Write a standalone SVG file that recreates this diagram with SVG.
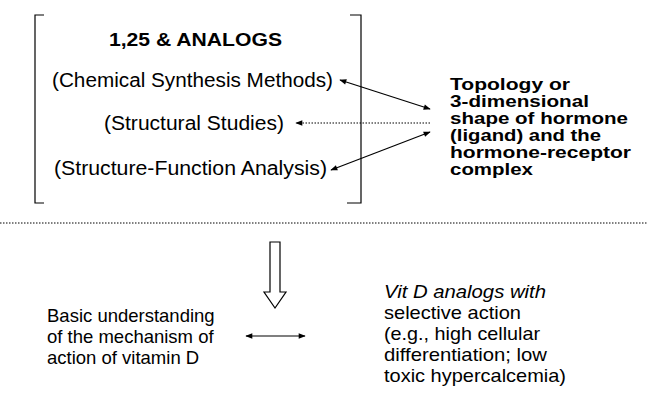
<svg xmlns="http://www.w3.org/2000/svg" width="648" height="393" viewBox="0 0 648 393">
<defs>
<marker id="ah" viewBox="0 0 10 10" refX="9" refY="5" markerWidth="9" markerHeight="7" markerUnits="userSpaceOnUse" orient="auto-start-reverse">
<path d="M0,1 L10,5 L0,9 Z" fill="#000"/>
</marker>
<style>
.t{font-family:"Liberation Sans",Arial,Helvetica,sans-serif;fill:#000}
.b{font-weight:bold}
.ln{stroke:#000;stroke-width:1.2;fill:none}
.dot{stroke:#000;stroke-width:1;fill:none;stroke-dasharray:1.5 1.5}
</style>
</defs>
<rect width="648" height="393" fill="#fff"/>
<g id="analogs">
<path class="ln" d="M44,15 H35 V203 H44"/>
<path class="ln" d="M350,15 H361 V203 H347"/>
<text class="t b" x="109" y="46" font-size="19" textLength="173" lengthAdjust="spacingAndGlyphs">1,25 &amp; ANALOGS</text>
<text class="t" x="52" y="87" font-size="19.5" textLength="281" lengthAdjust="spacingAndGlyphs">(Chemical Synthesis Methods)</text>
<text class="t" x="104" y="130" font-size="19.5" textLength="180" lengthAdjust="spacingAndGlyphs">(Structural Studies)</text>
<text class="t" x="54" y="175" font-size="19.5" textLength="273" lengthAdjust="spacingAndGlyphs">(Structure-Function Analysis)</text>
</g>
<g id="topology">
<text class="t b" font-size="16.5" x="450" y="90" textLength="120" lengthAdjust="spacingAndGlyphs">Topology or</text>
<text class="t b" font-size="16.5" x="450" y="107" textLength="139" lengthAdjust="spacingAndGlyphs">3-dimensional</text>
<text class="t b" font-size="16.5" x="450" y="124" textLength="178" lengthAdjust="spacingAndGlyphs">shape of hormone</text>
<text class="t b" font-size="16.5" x="450" y="141" textLength="151" lengthAdjust="spacingAndGlyphs">(ligand) and the</text>
<text class="t b" font-size="16.5" x="450" y="158" textLength="181" lengthAdjust="spacingAndGlyphs">hormone-receptor</text>
<text class="t b" font-size="16.5" x="450" y="175" textLength="83" lengthAdjust="spacingAndGlyphs">complex</text>
</g>
<g id="understanding">
<text class="t" font-size="18.5" x="47" y="322">Basic understanding</text>
<text class="t" font-size="18.5" x="47" y="343">of the mechanism of</text>
<text class="t" font-size="18.5" x="47" y="364">action of vitamin D</text>
</g>
<g id="vitd">
<text class="t" font-size="18.5" x="384" y="298" font-style="italic" textLength="162" lengthAdjust="spacingAndGlyphs">Vit D analogs with</text>
<text class="t" font-size="18.5" x="384" y="319" textLength="137" lengthAdjust="spacingAndGlyphs">selective action</text>
<text class="t" font-size="18.5" x="384" y="340" textLength="156" lengthAdjust="spacingAndGlyphs">(e.g., high cellular</text>
<text class="t" font-size="18.5" x="384" y="361" textLength="163" lengthAdjust="spacingAndGlyphs">differentiation; low</text>
<text class="t" font-size="18.5" x="384" y="382" textLength="182" lengthAdjust="spacingAndGlyphs">toxic hypercalcemia)</text>
</g>
<g id="connectors">
<line class="ln" x1="340" y1="80" x2="430" y2="109" marker-start="url(#ah)" marker-end="url(#ah)"/>
<line class="dot" x1="430" y1="123" x2="296" y2="123" marker-end="url(#ah)"/>
<line class="ln" x1="430" y1="132" x2="331" y2="170" marker-start="url(#ah)" marker-end="url(#ah)"/>
<line class="dot" x1="0" y1="223" x2="648" y2="223"/>
<path class="ln" d="M270,242 H280 V292 H286 L275,308 L264,292 H270 Z"/>
<line class="ln" x1="246" y1="336" x2="305" y2="336" marker-start="url(#ah)" marker-end="url(#ah)"/>
</g>
</svg>
